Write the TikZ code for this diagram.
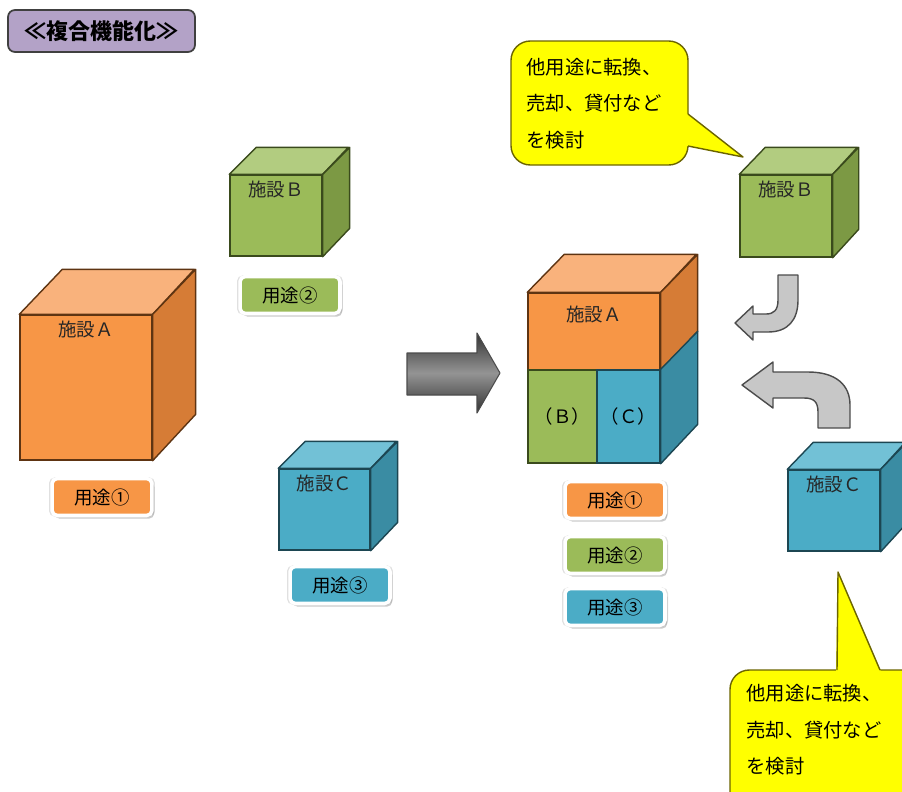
\documentclass[tikz,border=0pt]{standalone}
\usepackage{fontspec}
\setmainfont{Noto Sans CJK JP}
\usetikzlibrary{shadows}

\definecolor{orgF}{HTML}{F79646}
\definecolor{orgT}{HTML}{F9B27C}
\definecolor{orgS}{HTML}{D67C36}
\definecolor{orgL}{HTML}{5E3412}
\definecolor{grnF}{HTML}{9BBB59}
\definecolor{grnT}{HTML}{B2CC80}
\definecolor{grnS}{HTML}{7C9944}
\definecolor{grnL}{HTML}{3A4A1C}
\definecolor{bluF}{HTML}{4BACC6}
\definecolor{bluT}{HTML}{72C1D6}
\definecolor{bluS}{HTML}{3A8CA3}
\definecolor{bluL}{HTML}{1C4652}
\definecolor{ttlF}{HTML}{B3A2C7}
\definecolor{noteF}{HTML}{FFFF00}
\definecolor{noteL}{HTML}{6B6400}

\begin{document}
\begin{tikzpicture}[x=0.02cm, y=-0.02cm,
    frontface/.style={draw=#1L, fill=#1F, line width=0.8pt, inner sep=0pt,
                      font=\fontsize{10.5}{12}\selectfont},
    topface/.style={draw=#1L, fill=#1T, line width=0.8pt, line join=round},
    sideface/.style={draw=#1L, fill=#1S, line width=0.8pt, line join=round},
    facetext/.style={anchor=north, font=\fontsize{10.5}{12}\selectfont, text=black!85},
    purpose/.style={fill=#1F, draw=white, line width=2pt, rounded corners=3pt,
                    minimum width=2cm, minimum height=0.74cm,
                    font=\fontsize{10.5}{12}\selectfont,
                    general shadow={fill=black!12, shadow scale=1.06},
                    drop shadow={shadow xshift=1.3pt, shadow yshift=-1.8pt, fill=black!45, opacity=0.45}},
    balloon/.style={fill=noteF, draw=noteL, line width=0.8pt, rounded corners=11pt},
    note/.style={anchor=west, align=left, inner sep=0pt, font=\fontsize{11}{20.7}\selectfont},
    turn/.style={fill=black!22, draw=black!70, line width=0.8pt, line join=round}]

  \useasboundingbox (0,0) rectangle (902,791);
  \clip (0,0) rectangle (902,791);

  \node[fill=ttlF, draw=black!75, line width=1pt, rounded corners=4pt,
        minimum width=3.74cm, minimum height=0.84cm,
        font=\fontsize{12.5}{14}\selectfont\bfseries] (ttl) at (101.5,31) {≪複合機能化≫};

  % facilities before
  \node[frontface=org, minimum width=2.64cm, minimum height=2.9cm,
        label={[facetext]north:施設Ａ}] (facA) at (86,387.5) {};
  \draw[topface=org] (facA.north west) -- ++(43,-45) -- ++(132,0) -- (facA.north east) -- cycle;
  \draw[sideface=org] (facA.north east) -- ++(43,-45) -- ++(0,145) -- (facA.south east) -- cycle;

  \node[frontface=grn, minimum width=1.84cm, minimum height=1.62cm,
        label={[facetext]north:施設Ｂ}] (facB) at (276,215.5) {};
  \draw[topface=grn] (facB.north west) -- ++(27,-27) -- ++(92,0) -- (facB.north east) -- cycle;
  \draw[sideface=grn] (facB.north east) -- ++(27,-27) -- ++(0,81) -- (facB.south east) -- cycle;

  \node[frontface=blu, minimum width=1.82cm, minimum height=1.62cm,
        label={[facetext]north:施設Ｃ}] (facC) at (324.5,509.5) {};
  \draw[topface=blu] (facC.north west) -- ++(27,-27) -- ++(91,0) -- (facC.north east) -- cycle;
  \draw[sideface=blu] (facC.north east) -- ++(27,-27) -- ++(0,81) -- (facC.south east) -- cycle;

  \node[purpose=org] (useA) at (102,497) {用途①};
  \node[purpose=grn] (useB) at (290,295) {用途②};
  \node[purpose=blu] (useC) at (340,585) {用途③};

  \shadedraw[top color=black!80, bottom color=black!80, middle color=black!42,
             draw=black!70, line width=0.6pt, line join=round]
    (407,353) -- (477,353) -- (477,333) -- (500,373) -- (477,413) -- (477,395) -- (407,395) -- cycle;

  % combined facility
  \node[frontface=org, minimum width=2.64cm, minimum height=1.54cm,
        label={[facetext, yshift=-4pt]north:施設Ａ}] (mixA) at (594,331.5) {};
  \node[frontface=grn, minimum width=1.38cm, minimum height=1.86cm] (mixB) at (562.5,416.5) {（Ｂ）};
  \node[frontface=blu, minimum width=1.26cm, minimum height=1.86cm] (mixC) at (628.5,416.5) {（Ｃ）};
  \draw[topface=org] (mixA.north west) -- ++(37,-38) -- ++(132,0) -- (mixA.north east) -- cycle;
  \draw[sideface=org] (mixA.north east) -- ++(37,-38) -- ++(0,77) -- (mixA.south east) -- cycle;
  \draw[sideface=blu] (mixC.north east) -- ++(37,-38) -- ++(0,93) -- (mixC.south east) -- cycle;

  \node[purpose=org] (mixUseA) at (615,500) {用途①};
  \node[purpose=grn] (mixUseB) at (615,555) {用途②};
  \node[purpose=blu] (mixUseC) at (615,607) {用途③};

  % spare facilities and notes
  \draw[balloon] (511,41) rectangle (688,165);
  \fill[noteF] (686,113) -- (743,157) -- (686,146) -- cycle;
  \draw[noteL, line width=0.8pt, line join=round] (688,114) -- (743,157) -- (688,146);
  \node[note] (noteB) at (526,103.5) {他用途に転換、\\売却、貸付など\\を検討};

  \node[frontface=grn, minimum width=1.84cm, minimum height=1.64cm,
        label={[facetext]north:施設Ｂ}] (spareB) at (786,216) {};
  \draw[topface=grn] (spareB.north west) -- ++(26,-27) -- ++(92,0) -- (spareB.north east) -- cycle;
  \draw[sideface=grn] (spareB.north east) -- ++(26,-27) -- ++(0,82) -- (spareB.south east) -- cycle;

  \node[frontface=blu, minimum width=1.84cm, minimum height=1.62cm,
        label={[facetext]north:施設Ｃ}] (spareC) at (834,510.5) {};
  \draw[topface=blu] (spareC.north west) -- ++(26,-27) -- ++(92,0) -- (spareC.north east) -- cycle;
  \draw[sideface=blu] (spareC.north east) -- ++(26,-27) -- ++(0,81) -- (spareC.south east) -- cycle;

  \draw[turn] (778,275) -- (798,275) -- (798,300) .. controls (798,320) and (788,332) .. (768,332)
    -- (753,332) -- (753,340) -- (735,323) -- (753,306) -- (753,314) -- (766,314)
    .. controls (774,314) and (778,310) .. (778,300) -- cycle;
  \draw[turn] (818,428) -- (818,412) .. controls (818,402) and (814,398) .. (804,398)
    -- (773,398) -- (773,408) -- (742,385) -- (773,362) -- (773,372) -- (808,372)
    .. controls (836,372) and (850,385) .. (850,405) -- (850,428) -- cycle;

  \draw[balloon] (730,670) rectangle (940,840);
  \fill[noteF] (836,672) -- (838,572) -- (881,672) -- cycle;
  \draw[noteL, line width=0.8pt, line join=round] (837,670) -- (838,572) -- (880,670);
  \node[note] (noteC) at (746,730) {他用途に転換、\\売却、貸付など\\を検討};

\end{tikzpicture}
\end{document}
